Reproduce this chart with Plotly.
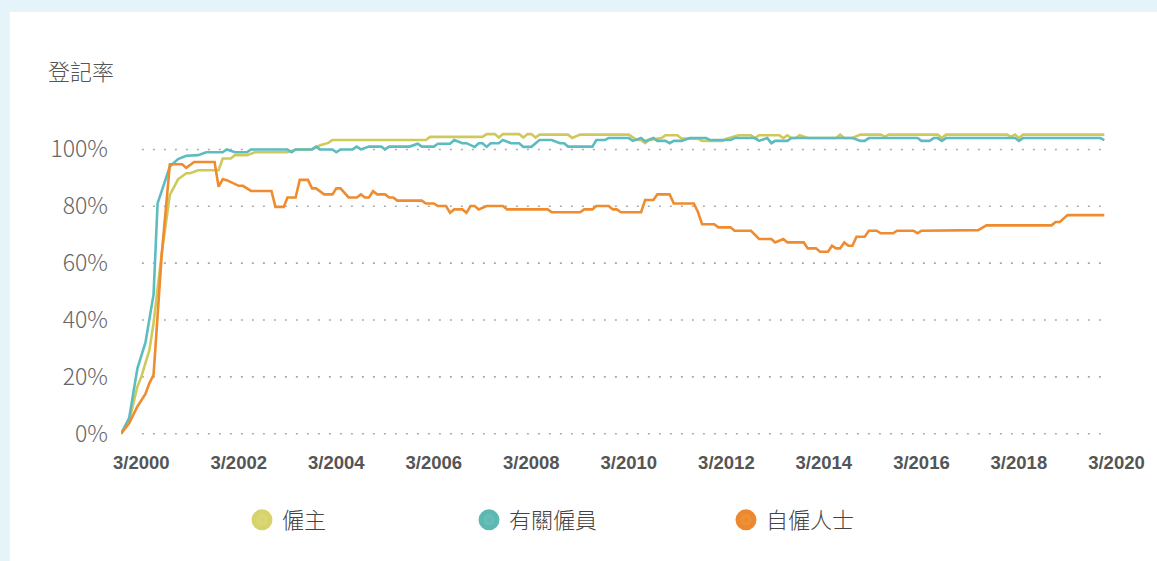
import plotly.graph_objects as go

# ---------------- data (registration rate, %) ----------------
employer_dates = ["1999-10", "1999-12", "2000-02", "2000-03", "2000-05", "2000-06", "2000-08", "2000-10",
                  "2000-12", "2001-02", "2001-03", "2001-05", "2001-10", "2001-11", "2002-01", "2002-02",
                  "2002-05", "2002-07", "2003-03", "2003-05", "2003-09", "2003-11", "2004-01", "2004-02",
                  "2006-01", "2006-02", "2007-03", "2007-04", "2007-06", "2007-07", "2007-08", "2007-12",
                  "2008-01", "2008-02", "2008-03", "2008-04", "2008-05", "2008-12", "2009-01", "2009-03",
                  "2010-03", "2010-05", "2010-06", "2010-07", "2010-08", "2010-11", "2010-12", "2011-03",
                  "2011-04", "2011-08", "2011-09", "2012-02", "2012-03", "2012-06", "2012-09", "2012-10",
                  "2012-11", "2013-04", "2013-05", "2013-06", "2013-07", "2013-08", "2013-09", "2013-11",
                  "2014-06", "2014-07", "2014-08", "2014-10", "2014-12", "2015-05", "2015-06", "2015-07",
                  "2016-07", "2016-08", "2016-09", "2017-12", "2018-01", "2018-02", "2018-03", "2018-04",
                  "2019-12"]
employer_rate = [0, 4.5, 16.6, 20, 29.5, 38.9, 63.5, 84,
                 89.5, 91.6, 91.6, 92.7, 92.7, 96.8, 96.8, 98,
                 98, 99, 99, 100, 100, 101.5, 102.3, 103.3,
                 103.3, 104.4, 104.4, 105.4, 105.4, 104.2, 105.4, 105.4,
                 104.2, 105.4, 105.4, 104.2, 105.2, 105.2, 104, 105.2,
                 105.2, 103.3, 103.3, 102.2, 103.3, 104, 105, 105,
                 103.8, 103.8, 103, 103, 103.8, 105, 105, 104,
                 105, 105, 104, 105, 104, 104, 105, 104,
                 104, 105.2, 104, 104, 105.2, 105.2, 104.5, 105.2,
                 105.2, 104, 105.2, 105.2, 104.5, 105.2, 104, 105.2,
                 105.2]

employee_dates = ["1999-10", "1999-12", "2000-02", "2000-04", "2000-06", "2000-07", "2000-10", "2000-12",
                  "2001-02", "2001-05", "2001-07", "2001-11", "2001-12", "2002-02", "2002-05", "2002-06",
                  "2003-03", "2003-04", "2003-05", "2003-09", "2003-10", "2003-11", "2004-02", "2004-03",
                  "2004-04", "2004-07", "2004-08", "2004-09", "2004-11", "2005-02", "2005-03", "2005-04",
                  "2005-09", "2005-11", "2005-12", "2006-03", "2006-04", "2006-07", "2006-08", "2006-10",
                  "2006-11", "2007-01", "2007-02", "2007-03", "2007-04", "2007-05", "2007-07", "2007-08",
                  "2007-10", "2007-12", "2008-01", "2008-03", "2008-05", "2008-08", "2008-10", "2008-11",
                  "2008-12", "2009-06", "2009-07", "2009-09", "2009-10", "2010-03", "2010-04", "2010-06",
                  "2010-07", "2010-09", "2010-10", "2010-12", "2011-01", "2011-02", "2011-04", "2011-06",
                  "2011-10", "2011-11", "2012-04", "2012-05", "2012-10", "2012-11", "2013-01", "2013-02",
                  "2013-03", "2013-06", "2013-07", "2014-10", "2014-12", "2015-01", "2015-02", "2016-02",
                  "2016-03", "2016-05", "2016-06", "2016-07", "2016-08", "2016-09", "2018-02", "2018-03",
                  "2018-04", "2019-11", "2019-12"]
employee_rate = [0, 5.5, 23, 32, 49, 81, 94, 96.6,
                 97.8, 98, 99, 99, 100, 99, 99, 100,
                 100, 99, 100, 100, 101, 100, 100, 99,
                 100, 100, 101, 100, 101, 101, 100, 101,
                 101, 102, 101, 101, 102, 102, 103.3, 102.2,
                 102.2, 100.9, 102.2, 102.2, 100.9, 102.2, 102.2, 103.3,
                 102.2, 102.2, 100.9, 100.9, 103.3, 103.3, 102.2, 102.2,
                 101, 101, 103.3, 103.3, 104, 104, 103, 104,
                 102.9, 104, 103, 103, 102.2, 103, 103, 104,
                 104, 103.3, 103.3, 104, 104, 103, 104, 102.2,
                 103, 103, 104, 104, 103, 103, 104, 104,
                 103, 103, 104, 104, 103, 104, 104, 103,
                 104, 104, 103.3]

selfemp_dates = ["1999-10", "1999-12", "2000-02", "2000-04", "2000-05", "2000-06", "2000-08", "2000-09",
                 "2000-10", "2001-01", "2001-02", "2001-04", "2001-09", "2001-10", "2001-11", "2001-12",
                 "2002-03", "2002-04", "2002-06", "2002-11", "2002-12", "2003-02", "2003-03", "2003-05",
                 "2003-06", "2003-08", "2003-09", "2003-10", "2003-12", "2004-02", "2004-03", "2004-04",
                 "2004-06", "2004-08", "2004-09", "2004-10", "2004-11", "2004-12", "2005-01", "2005-03",
                 "2005-04", "2005-05", "2005-06", "2005-12", "2006-01", "2006-03", "2006-04", "2006-06",
                 "2006-07", "2006-08", "2006-10", "2006-11", "2006-12", "2007-01", "2007-02", "2007-04",
                 "2007-08", "2007-09", "2008-07", "2008-08", "2009-03", "2009-04", "2009-06", "2009-07",
                 "2009-10", "2009-11", "2009-12", "2010-01", "2010-06", "2010-07", "2010-09", "2010-10",
                 "2011-01", "2011-02", "2011-07", "2011-08", "2011-09", "2011-12", "2012-01", "2012-04",
                 "2012-05", "2012-09", "2012-11", "2013-02", "2013-03", "2013-05", "2013-06", "2013-10",
                 "2013-11", "2014-01", "2014-02", "2014-04", "2014-05", "2014-06", "2014-07", "2014-08",
                 "2014-09", "2014-10", "2014-11", "2015-01", "2015-02", "2015-04", "2015-05", "2015-08",
                 "2015-09", "2016-01", "2016-02", "2016-03", "2017-05", "2017-07", "2018-11", "2018-12",
                 "2019-01", "2019-03", "2019-12"]
selfemp_rate = [0, 3.7, 9.6, 14, 17.8, 20.7, 63, 79,
                94.8, 94.8, 93.5, 95.6, 95.6, 86.9, 89.5, 89.2,
                87.2, 87.2, 85.4, 85.4, 79.8, 79.8, 83.1, 83.1,
                89.3, 89.3, 86.3, 86.3, 84.2, 84.2, 86.3, 86.3,
                83.1, 83.1, 84.2, 83.1, 83.1, 85.3, 84.2, 84.2,
                83.1, 83.1, 82, 82, 81, 81, 80.1, 80.1,
                77.7, 78.9, 78.9, 77.7, 80.1, 80.1, 78.9, 80.1,
                80.1, 78.9, 78.9, 77.9, 77.9, 78.9, 78.9, 80.1,
                80.1, 78.9, 78.9, 77.9, 77.9, 82.2, 82.2, 84.2,
                84.2, 81, 81, 78, 73.7, 73.7, 72.6, 72.6,
                71.4, 71.4, 68.5, 68.5, 67.3, 68.5, 67.3, 67.3,
                65.2, 65.2, 64, 64, 66.1, 65.2, 65.2, 67.3,
                66.1, 66.1, 69.3, 69.3, 71.4, 71.4, 70.5, 70.5,
                71.4, 71.4, 70.5, 71.4, 71.6, 73.3, 73.3, 74.5,
                74.5, 76.9, 76.9]

series_names = ["僱主", "有關僱員", "自僱人士"]

x_tick_dates = ["2000-03-01", "2002-03-01", "2004-03-01", "2006-03-01", "2008-03-01", "2010-03-01",
                "2012-03-01", "2014-03-01", "2016-03-01", "2018-03-01", "2020-03-01"]
x_tick_labels = ["3/2000", "3/2002", "3/2004", "3/2006", "3/2008", "3/2010",
                 "3/2012", "3/2014", "3/2016", "3/2018", "3/2020"]
y_tick_values = [0, 20, 40, 60, 80, 100]
y_tick_labels = ["0%", "20%", "40%", "60%", "80%", "100%"]

# ---------------- styling ----------------
W, H = 1157, 561
L, R, T, B = 121, 34, 121, 123
plot_w = W - L - R
line_colors = ["#CFC95C", "#5CBCC0", "#EE8C2F"]
dot_centers = ["#DFDC7C", "#72C4BF", "#F19A3C"]
dot_edges = ["#D6D26C", "#5DB8B2", "#EB8830"]
legend_ids = ["legend", "legend2", "legend3"]
legend_x_px = [242, 469, 726]
cjk = "Noto Sans CJK TC, Noto Sans CJK SC, sans-serif"

fig = go.Figure()
data = [(employer_dates, employer_rate), (employee_dates, employee_rate), (selfemp_dates, selfemp_rate)]
for i, (xs, ys) in enumerate(data):
    fig.add_trace(go.Scatter(x=xs, y=ys, mode="lines", name=series_names[i],
                             line=dict(color=line_colors[i], width=2.6),
                             showlegend=False, hoverinfo="skip"))
for i in range(3):
    fig.add_trace(go.Scatter(x=[None], y=[None], mode="markers", name=series_names[i],
                             legend=legend_ids[i], showlegend=True,
                             marker=dict(size=16, color=dot_centers[i], symbol="circle",
                                         gradient=dict(type="radial", color=dot_edges[i]),
                                         line=dict(color=dot_edges[i], width=5))))

shapes = [dict(type="rect", xref="paper", yref="paper",
               x0=(9 - L) / plot_w, x1=1.2, y0=-0.6, y1=(H - B - 12) / (H - T - B),
               fillcolor="white", line=dict(width=0), layer="below")]
for v in y_tick_values:
    shapes.append(dict(type="line", xref="paper", yref="y",
                       x0=(142 - L) / plot_w, x1=(1110 - L) / plot_w, y0=v, y1=v,
                       line=dict(color="#AAAAAA", width=1.6, dash="2px,9px"), layer="below"))

legends = {}
for i, lid in enumerate(legend_ids):
    legends[lid] = dict(x=legend_x_px[i] / W, y=1 - 520 / H, xref="container", yref="container",
                        xanchor="left", yanchor="middle", orientation="h",
                        bgcolor="rgba(0,0,0,0)", itemwidth=30,
                        font=dict(family=cjk, size=22, color="#444", weight=300))

fig.update_layout(
    width=W, height=H,
    margin=dict(l=L, r=R, t=T, b=B, pad=0),
    paper_bgcolor="#E4F4F8", plot_bgcolor="rgba(0,0,0,0)",
    font=dict(family=cjk, color="#555"),
    title=dict(text="登記率", x=48 / W, xref="container", xanchor="left",
               y=1 - 72 / H, yref="container", yanchor="middle",
               font=dict(family=cjk, size=22, color="#555", weight=300)),
    xaxis=dict(type="date", range=["1999-10-01", "2020-03-05"],
               tickmode="array", tickvals=x_tick_dates, ticktext=x_tick_labels,
               showgrid=False, zeroline=False, showline=False, ticks="",
               ticklabelstandoff=11,
               tickfont=dict(family="Liberation Sans Narrow, Liberation Sans, Arial, sans-serif",
                             size=18.5, color="#555", weight="bold")),
    yaxis=dict(range=[-1.5, 110], tickmode="array", tickvals=y_tick_values, ticktext=y_tick_labels,
               showgrid=False, zeroline=False, showline=False, ticks="",
               ticklabelstandoff=12,
               tickfont=dict(family=cjk, size=23, color="#666", weight=300)),
    shapes=shapes,
    hovermode=False,
    **legends,
)

fig.write_html("out.html", config={"displayModeBar": False},
               post_script="document.body.style.margin='0';document.body.style.overflow='hidden';")
